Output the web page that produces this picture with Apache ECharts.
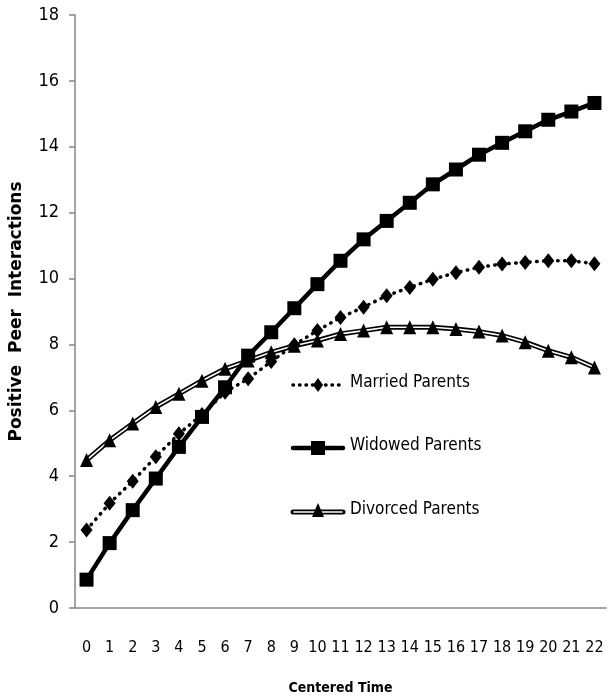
<!DOCTYPE html>
<html>
<head>
<meta charset="utf-8">
<script src="https://cdn.jsdelivr.net/npm/echarts@6/dist/echarts.min.js"></script>
<style>
  html, body { margin: 0; padding: 0; background: #fff; }
  #chart { width: 608px; height: 700px; }
</style>
</head>
<body>
<div id="chart"></div>
<script>
// Centered time points
const categories = ['0','1','2','3','4','5','6','7','8','9','10','11','12','13','14','15','16','17','18','19','20','21','22'];

// Positive peer interactions by family structure
const married = [2.37, 3.18, 3.85, 4.59, 5.29, 5.87, 6.55, 6.96, 7.48, 7.99, 8.42, 8.82, 9.13, 9.48, 9.73, 9.98, 10.18, 10.34, 10.44, 10.49, 10.54, 10.54, 10.45];
const widowed = [0.86, 1.97, 2.97, 3.93, 4.89, 5.80, 6.70, 7.66, 8.37, 9.10, 9.83, 10.54, 11.19, 11.75, 12.30, 12.86, 13.31, 13.76, 14.12, 14.47, 14.82, 15.07, 15.33];
const divorced = [4.49, 5.09, 5.60, 6.10, 6.50, 6.90, 7.26, 7.51, 7.76, 7.96, 8.12, 8.32, 8.42, 8.52, 8.52, 8.52, 8.47, 8.39, 8.27, 8.07, 7.81, 7.61, 7.30];

const seriesNames = ['Married Parents', 'Widowed Parents', 'Divorced Parents'];

const FONT = "'DejaVu Sans Condensed', 'Roboto', sans-serif";
const TITLE_FONT = "'DejaVu Sans', Verdana, sans-serif";
const chart = echarts.init(document.getElementById('chart'), null, { renderer: 'canvas' });

// Legend drawn as graphic elements (line samples + marker + text)
const lx = 293, lx2 = 343, tx = 350;
const ly = [385, 448, 512];
const legendGraphics = [
  // married: dotted line with diamond
  { type: 'line', shape: { x1: lx, y1: ly[0], x2: lx2, y2: ly[0] },
    style: { stroke: '#000', lineWidth: 3.5, lineDash: [0.5, 6], lineCap: 'round' } },
  { type: 'polygon', shape: { points: [[318, ly[0] - 7], [323, ly[0]], [318, ly[0] + 7], [313, ly[0]]] },
    style: { fill: '#000' } },
  { type: 'text', left: tx, top: ly[0] - 11, style: { text: seriesNames[0], font: "17px " + FONT, fill: '#000' } },
  // widowed: solid thick line with square
  { type: 'line', shape: { x1: lx, y1: ly[1], x2: lx2, y2: ly[1] },
    style: { stroke: '#000', lineWidth: 4.5, lineCap: 'round' } },
  { type: 'rect', shape: { x: 311, y: ly[1] - 7, width: 14, height: 14 }, style: { fill: '#000' } },
  { type: 'text', left: tx, top: ly[1] - 11, style: { text: seriesNames[1], font: "17px " + FONT, fill: '#000' } },
  // divorced: double line with triangle
  { type: 'line', shape: { x1: lx, y1: ly[2], x2: lx2, y2: ly[2] },
    style: { stroke: '#000', lineWidth: 5, lineCap: 'round' } },
  { type: 'line', shape: { x1: lx + 1, y1: ly[2], x2: lx2 - 1, y2: ly[2] },
    style: { stroke: '#fff', lineWidth: 1.6, lineCap: 'round' } },
  { type: 'polygon', shape: { points: [[318, ly[2] - 9], [324, ly[2] + 5], [312, ly[2] + 5]] },
    style: { fill: '#000' } },
  { type: 'text', left: tx, top: ly[2] - 11, style: { text: seriesNames[2], font: "17px " + FONT, fill: '#000' } }
];

const option = {
  animation: false,
  backgroundColor: '#fff',
  grid: { left: 70, right: 2, top: 15, bottom: 90, containLabel: false },
  xAxis: {
    type: 'category',
    data: categories,
    boundaryGap: true,
    name: 'Centered Time',
    nameLocation: 'middle',
    nameGap: 73,
    nameTextStyle: { fontFamily: FONT, fontWeight: 'bold', fontSize: 14, color: '#000' },
    axisLine: { lineStyle: { color: '#868686', width: 1.5 } },
    axisTick: { show: false },
    axisLabel: { interval: 0, fontFamily: FONT, fontSize: 16, color: '#000', margin: 32 },
    splitLine: { show: false }
  },
  yAxis: {
    type: 'value',
    min: 0, max: 18, interval: 2,
    name: 'Positive  Peer  Interactions',
    nameLocation: 'middle',
    nameGap: 50,
    nameTextStyle: { fontFamily: TITLE_FONT, fontWeight: 'bold', fontSize: 17, color: '#000' },
    axisLine: { show: true, lineStyle: { color: '#868686', width: 1.5 } },
    axisTick: { show: true, inside: false, length: 6, lineStyle: { color: '#868686', width: 1.5 } },
    axisLabel: { fontFamily: FONT, fontSize: 18, color: '#000', margin: 16 },
    splitLine: { show: false }
  },
  graphic: legendGraphics,
  series: [
    {
      name: seriesNames[2] + ' outline',
      type: 'line', data: divorced, z: 2,
      symbol: 'none',
      lineStyle: { color: '#000', width: 5 }
    },
    {
      name: seriesNames[2] + ' inner',
      type: 'line', data: divorced, z: 3,
      symbol: 'none',
      lineStyle: { color: '#fff', width: 1.6 }
    },
    {
      name: seriesNames[2],
      type: 'line', data: divorced, z: 4,
      symbol: 'triangle', symbolSize: [13, 14],
      itemStyle: { color: '#000' },
      lineStyle: { width: 0, opacity: 0 }
    },
    {
      name: seriesNames[0],
      type: 'line', data: married, z: 5,
      symbol: 'diamond', symbolSize: [12, 15],
      itemStyle: { color: '#000' },
      lineStyle: { color: '#000', width: 3.5, type: [0.5, 6.5], cap: 'round' }
    },
    {
      name: seriesNames[1],
      type: 'line', data: widowed, z: 6,
      symbol: 'rect', symbolSize: 14,
      itemStyle: { color: '#000' },
      lineStyle: { color: '#000', width: 4.5 }
    }
  ]
};

chart.setOption(option);
</script>
</body>
</html>
